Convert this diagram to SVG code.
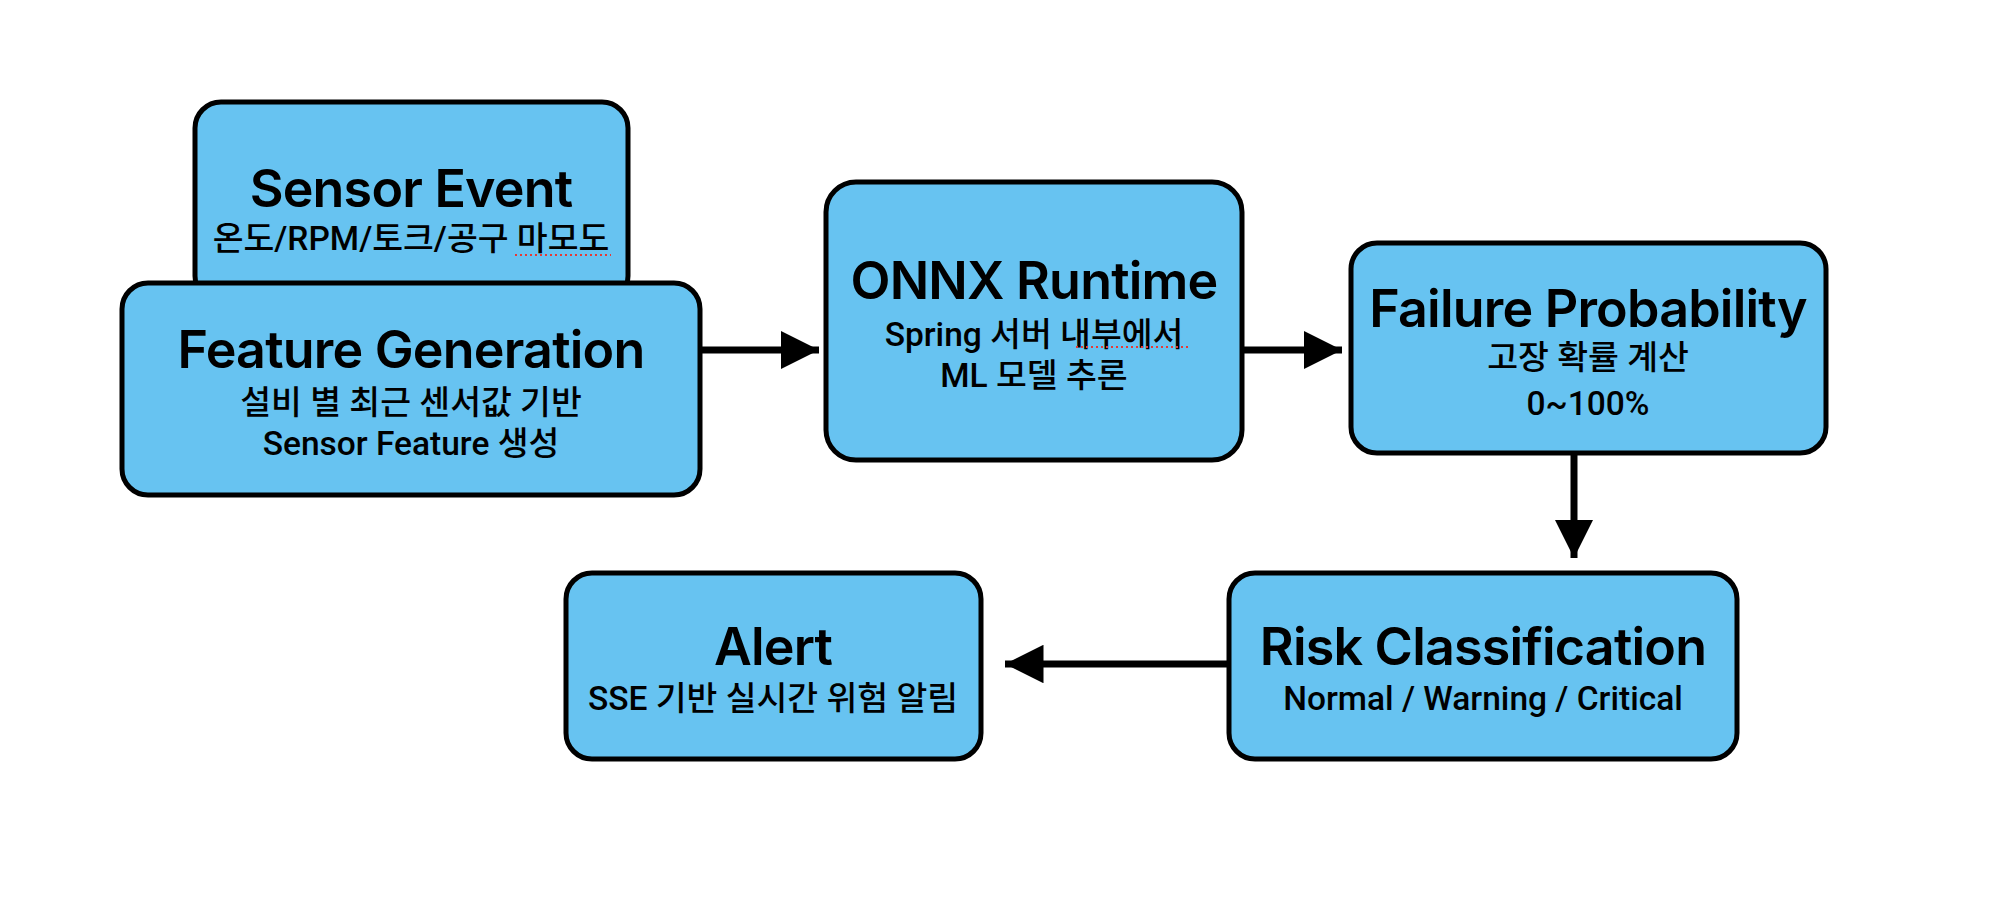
<svg xmlns="http://www.w3.org/2000/svg" width="1990" height="922" viewBox="0 0 1990 922">
<defs>
<style>
.box{fill:#67C3F1;stroke:#000;stroke-width:5}
.t{font-family:Inter,"Noto Sans","Noto Sans CJK KR",sans-serif;font-weight:600;font-size:52px;letter-spacing:-0.8px;fill:#000;text-anchor:middle}
.s{font-family:Roboto,"Noto Sans CJK KR","Noto Sans",sans-serif;font-weight:500;font-size:33.5px;fill:#000;text-anchor:middle}
.c{stroke:#000;stroke-width:7;fill:none}
.sq{stroke:#E53935;stroke-width:2;stroke-dasharray:2 3;fill:none}
</style>
<marker id="ah" viewBox="0 0 10 10" refX="10" refY="5" markerWidth="5.5" markerHeight="5.5" orient="auto" markerUnits="strokeWidth">
<path d="M0,0 L10,5 L0,10 Z" fill="#000"/>
</marker>
</defs>
<rect width="1990" height="922" fill="#fff"/>
<g id="connectors">
<line class="c" x1="700" y1="350" x2="819" y2="350" marker-end="url(#ah)"/>
<line class="c" x1="1242" y1="350" x2="1342" y2="350" marker-end="url(#ah)"/>
<line class="c" x1="1574" y1="453" x2="1574" y2="558" marker-end="url(#ah)"/>
<line class="c" x1="1228" y1="664" x2="1005" y2="664" marker-end="url(#ah)"/>
</g>
<g id="sensor-event">
<rect class="box" x="195" y="102" width="433" height="200" rx="26"/>
<text class="t" x="411" y="207">Sensor Event</text>
<text class="s" x="411" y="250">온도/RPM/토크/공구 마모도</text>
<path class="sq" d="M515 255 H611"/>
</g>
<g id="feature-generation">
<rect class="box" x="122" y="283" width="578" height="212" rx="26"/>
<text class="t" x="411" y="368">Feature Generation</text>
<text class="s" x="411" y="414">설비 별 최근 센서값 기반</text>
<text class="s" x="411" y="455">Sensor Feature 생성</text>
</g>
<g id="onnx-runtime">
<rect class="box" x="826" y="182" width="416" height="278" rx="30"/>
<text class="t" x="1034" y="299">ONNX Runtime</text>
<text class="s" x="1034" y="346">Spring 서버 내부에서</text>
<text class="s" x="1034" y="387">ML 모델 추론</text>
<path class="sq" d="M1076 347 H1188"/>
</g>
<g id="failure-probability">
<rect class="box" x="1351" y="243" width="475" height="210" rx="26"/>
<text class="t" x="1588" y="327">Failure Probability</text>
<text class="s" x="1588" y="369">고장 확률 계산</text>
<text class="s" x="1588" y="415">0~100%</text>
</g>
<g id="risk-classification">
<rect class="box" x="1229" y="573" width="508" height="186" rx="26"/>
<text class="t" x="1483" y="665">Risk Classification</text>
<text class="s" x="1483" y="710">Normal / Warning / Critical</text>
</g>
<g id="alert">
<rect class="box" x="566" y="573" width="415" height="186" rx="26"/>
<text class="t" x="773" y="665">Alert</text>
<text class="s" x="773" y="710">SSE 기반 실시간 위험 알림</text>
</g>
</svg>
